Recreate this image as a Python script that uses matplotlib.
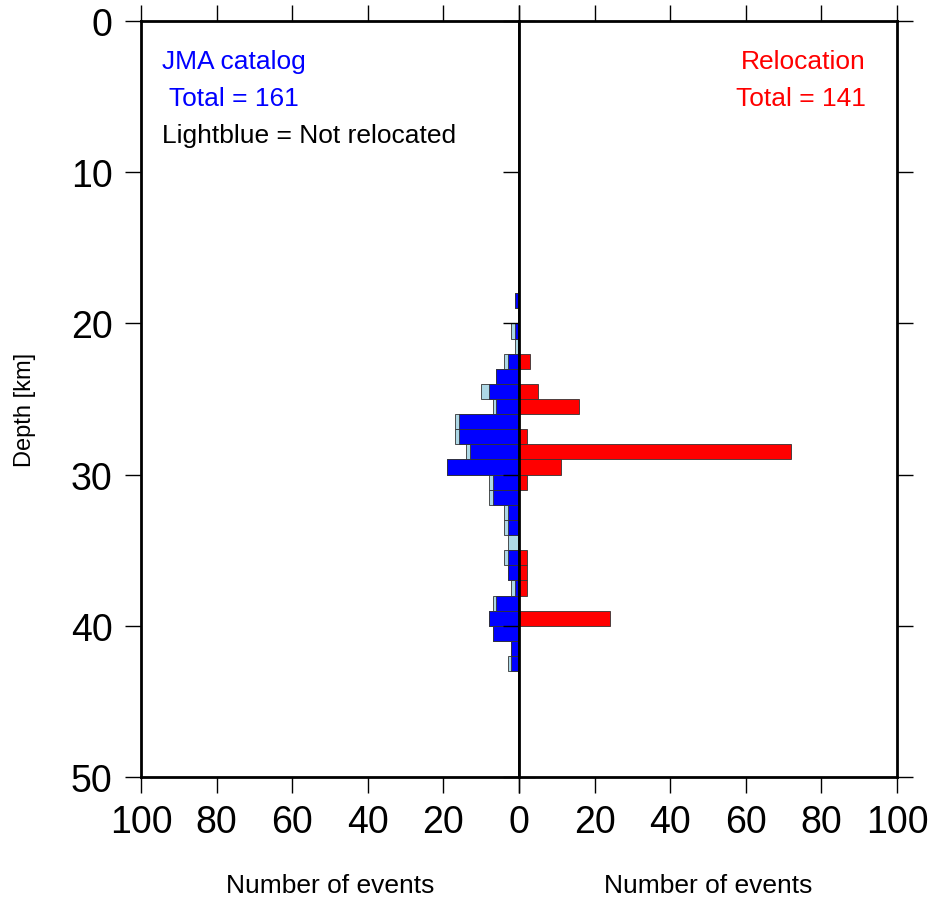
import numpy as np
import matplotlib
matplotlib.use("Agg")
import matplotlib.pyplot as plt

# depth bins (top of each 1 km bin)
depth_bins = np.arange(18, 43)

# JMA catalog, all events per bin (drawn lightblue)
jma_total = [1, 0, 2, 1, 4, 6, 10, 7, 17, 17, 14, 19, 8, 8, 4, 4, 3, 4, 3, 2, 7, 8, 7, 2, 3]
# JMA catalog, events that were relocated (drawn blue)
jma_reloc = [1, 0, 1, 0, 3, 6, 8, 6, 16, 16, 13, 19, 7, 7, 3, 3, 0, 3, 3, 1, 6, 8, 7, 2, 2]
# relocated depths
reloc = [0, 0, 0, 0, 3, 0, 5, 16, 0, 2, 72, 11, 2, 0, 0, 0, 0, 2, 2, 2, 0, 24, 0, 0, 0]

count_ticks = [0, 20, 40, 60, 80, 100]
depth_ticks = [0, 10, 20, 30, 40, 50]

plt.rcParams['font.family'] = ['Liberation Sans', 'DejaVu Sans']

fig = plt.figure(figsize=(9.36, 9.04), dpi=100)
axl = fig.add_axes([141/936, 126/904, 378/936, 756/904])
axr = fig.add_axes([519/936, 126/904, 378/936, 756/904], sharey=axl)

centers = depth_bins + 0.5
edge = dict(edgecolor='#333333', linewidth=0.6)
axl.barh(centers, jma_total, height=1.0, color='#add8e6', **edge)
axl.barh(centers, jma_reloc, height=1.0, color='#0000ff', **edge)
axr.barh(centers, reloc, height=1.0, color='#ff0000', **edge)

axl.set_xlim(100, 0)
axr.set_xlim(0, 100)
axl.set_ylim(50, 0)

for ax in (axl, axr):
    ax.set_xticks(count_ticks)
    ax.set_yticks(depth_ticks)
    for s in ax.spines.values():
        s.set_linewidth(2.0)
    ax.tick_params(axis='both', direction='out', length=11.5, width=1.0,
                   top=True, bottom=True, left=True, right=True,
                   labelsize=27)
    ax.tick_params(axis='x', pad=8)
    ax.tick_params(axis='y', pad=9)
    ax.set_xlabel('Number of events', fontsize=19, labelpad=24)

axr.tick_params(axis='y', labelleft=False)
axr.set_xticks(count_ticks, [''] + [str(t) for t in count_ticks[1:]])

axl.set_ylabel('Depth [km]', fontsize=17)
axl.yaxis.set_label_coords(-0.277, 0.487)

axl.text(94.5, 2.65, 'JMA catalog', color='#0000ff', fontsize=19, va='center', ha='left')
axl.text(94.5, 5.1, ' Total = 161', color='#0000ff', fontsize=19, va='center', ha='left')
axl.text(94.5, 7.55, 'Lightblue = Not relocated', color='black', fontsize=19, va='center', ha='left')
axr.text(91.8, 2.65, 'Relocation', color='#ff0000', fontsize=19, va='center', ha='right')
axr.text(91.8, 5.1, 'Total = 141', color='#ff0000', fontsize=19, va='center', ha='right')

fig.savefig('out.png', dpi=100)
